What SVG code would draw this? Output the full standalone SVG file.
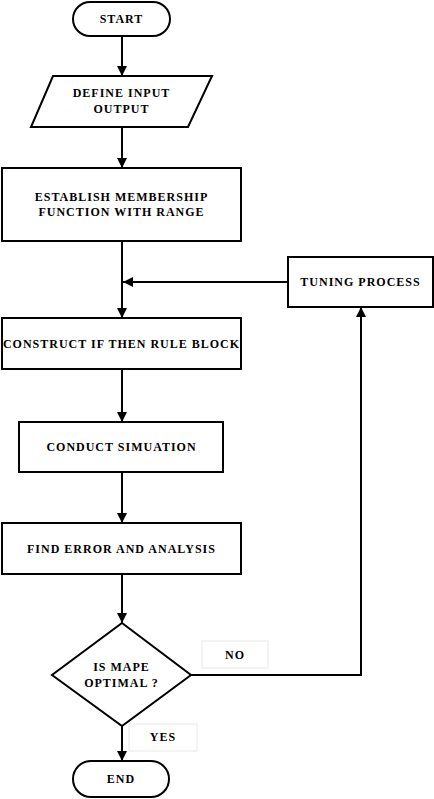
<svg xmlns="http://www.w3.org/2000/svg" width="434" height="799" viewBox="0 0 434 799">
<style>
.s{fill:#fff;stroke:#000;stroke-width:2}
.t{font-family:"Liberation Serif","Times New Roman",serif;font-weight:bold;font-size:12px;letter-spacing:1px;fill:#000;text-anchor:middle;dominant-baseline:central}
.c{fill:none;stroke:#000;stroke-width:2}
.lb{fill:#fff;stroke:#e8e8e8;stroke-width:1}
</style>
<defs>
<marker id="ah" viewBox="0 0 10 10" refX="10" refY="5" markerWidth="5" markerHeight="5" orient="auto" markerUnits="strokeWidth">
<path d="M0,0 L10,5 L0,10 z" fill="#000"/>
</marker>
</defs>
<rect width="434" height="799" fill="#fff"/>
<g id="connectors">
<line class="c" x1="122" y1="37" x2="122" y2="76" marker-end="url(#ah)"/>
<line class="c" x1="122" y1="127" x2="122" y2="168" marker-end="url(#ah)"/>
<line class="c" x1="122" y1="241" x2="122" y2="318" marker-end="url(#ah)"/>
<line class="c" x1="288" y1="282" x2="123" y2="282" marker-end="url(#ah)"/>
<line class="c" x1="122" y1="369" x2="122" y2="422" marker-end="url(#ah)"/>
<line class="c" x1="122" y1="472" x2="122" y2="523" marker-end="url(#ah)"/>
<line class="c" x1="122" y1="574" x2="122" y2="623" marker-end="url(#ah)"/>
<polyline class="c" points="191,675 361,675 361,307" marker-end="url(#ah)"/>
<line class="c" x1="122" y1="726" x2="122" y2="761" marker-end="url(#ah)"/>
</g>
<g id="start">
<rect class="s" x="73" y="2" width="97" height="34" rx="17"/>
<text class="t" x="121.5" y="19">START</text>
</g>
<g id="define">
<polygon class="s" points="53,76 212,76 188,127 31,127"/>
<text class="t" x="121.5" y="93">DEFINE INPUT</text>
<text class="t" x="121.5" y="109">OUTPUT</text>
</g>
<g id="establish">
<rect class="s" x="2" y="168" width="239" height="73"/>
<text class="t" x="121.5" y="197">ESTABLISH MEMBERSHIP</text>
<text class="t" x="121.5" y="212">FUNCTION WITH RANGE</text>
</g>
<g id="tuning">
<rect class="s" x="288" y="257" width="145" height="50"/>
<text class="t" x="360.5" y="282">TUNING PROCESS</text>
</g>
<g id="construct">
<rect class="s" x="2" y="318" width="239" height="51"/>
<text class="t" x="121.5" y="344">CONSTRUCT IF THEN RULE BLOCK</text>
</g>
<g id="conduct">
<rect class="s" x="19" y="422" width="204" height="50"/>
<text class="t" x="121.5" y="447">CONDUCT SIMUATION</text>
</g>
<g id="find">
<rect class="s" x="2" y="523" width="239" height="51"/>
<text class="t" x="121.5" y="549">FIND ERROR AND ANALYSIS</text>
</g>
<g id="decision">
<polygon class="s" points="122,623 191,675 122,726 52,675"/>
<text class="t" x="121.5" y="667">IS MAPE</text>
<text class="t" x="121.5" y="683">OPTIMAL ?</text>
</g>
<g id="no-label">
<rect class="lb" x="202" y="641" width="66" height="27"/>
<text class="t" x="235" y="655">NO</text>
</g>
<g id="yes-label">
<rect class="lb" x="129" y="724" width="68" height="27"/>
<text class="t" x="163" y="737">YES</text>
</g>
<g id="end">
<rect class="s" x="73" y="761" width="96" height="36" rx="18"/>
<text class="t" x="121" y="779">END</text>
</g>
</svg>
